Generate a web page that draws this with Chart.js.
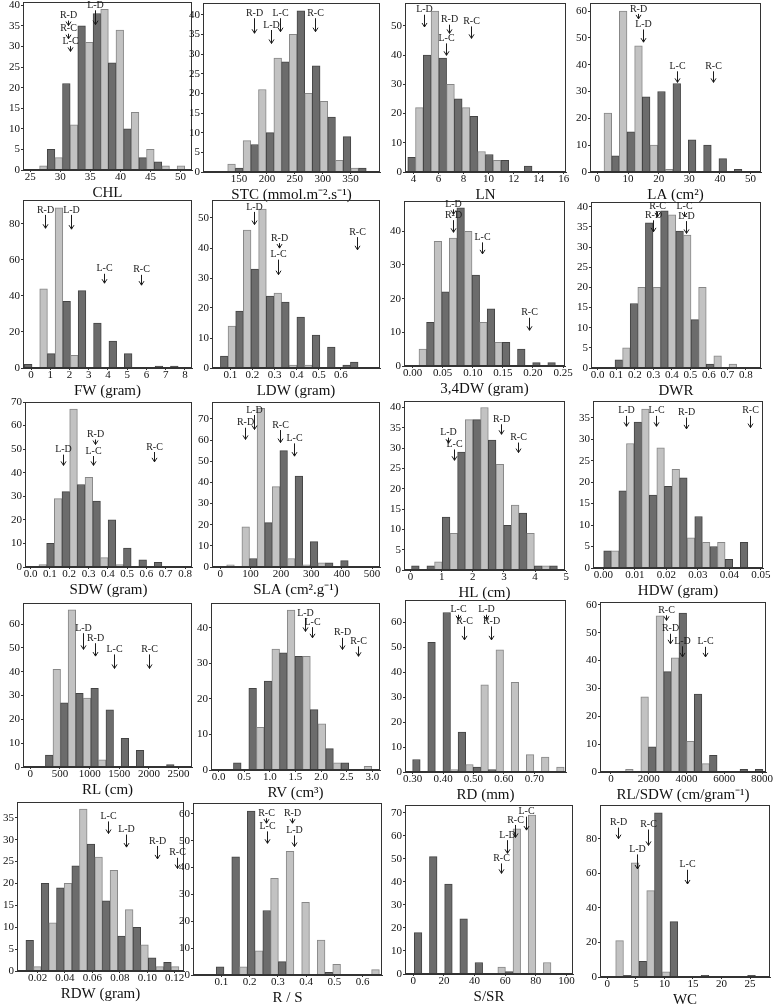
<!DOCTYPE html>
<html lang="en">
<head>
<meta charset="UTF-8">
<title>Trait histograms</title>
<script src="https://cdn.jsdelivr.net/npm/chart.js@4"></script>
<style>
  body { margin: 0; background: #fff; }
  #fig { position: relative; width: 773px; height: 1007px; overflow: hidden; background: #fff; }
  #fig canvas { position: absolute; }
</style>
</head>
<body>
<div id="fig"></div>
<script>
// each histogram: [first bin left edge, bin width], counts per bin,
// shade per bin (L = light bars, D = dark bars, - = empty), x tick labels,
// and the arrow notes as [label, x, y of label, y of arrow tip]

const CHL_BIN = [26.56, 1.27];
const CHL_COUNTS = [1, 5, 3, 21, 11, 35, 31, 38, 39, 26, 34, 10, 14, 3, 5, 2, 1, 0, 1];
const CHL_SHADE = 'LDLDLDLDLDLDLDLDL-L';
const CHL_XT = ['25', '30', '35', '40', '45', '50'];
const CHL_NOTES = [['L-D', 35.8, 40, 35.3], ['R-D', 31.3, 37.5, 35.3], ['R-C', 31.3, 34.3, 32.2], ['L-C', 31.6, 31.3, 28.8]];

const STC_BIN = [129.6, 13.8];
const STC_COUNTS = [2, 1, 8, 7, 21, 10, 29, 28, 35, 41, 20, 27, 18, 14, 3, 9, 1, 1];
const STC_SHADE = 'LDLDLDLDLDLDLDLDLD';
const STC_XT = ['150', '200', '250', '300', '350'];
const STC_NOTES = [['R-D', 177, 40.4, 35.3], ['L-D', 207, 37.4, 32.7], ['L-C', 224, 40.4, 35.7], ['R-C', 287, 40.4, 35.7]];

const LN_BIN = [3.55, 0.62];
const LN_COUNTS = [5, 22, 40, 55, 39, 30, 25, 22, 19, 7, 6, 4, 4, 0, 0, 2];
const LN_SHADE = 'DLDLDLDLDLDLD--D';
const LN_XT = ['4', '6', '8', '10', '12', '14', '16'];
const LN_NOTES = [['L-D', 4.85, 55.5, 49.6], ['R-D', 6.82, 52.1, 47.4], ['L-C', 6.6, 45.7, 39.9], ['R-C', 8.6, 51.5, 45.7]];

const LA_BIN = [2.17, 2.5];
const LA_COUNTS = [22, 6, 60, 15, 47, 28, 10, 30, 1, 33, 0, 12, 0, 10, 0, 5, 0, 1];
const LA_SHADE = 'LDLDLDLDLD-D-D-D-D';
const LA_XT = ['0', '10', '20', '30', '40', '50'];
const LA_NOTES = [['R-D', 13.3, 60.8, 57.1], ['L-D', 15.0, 55, 48.4], ['L-C', 26, 39.4, 33.4], ['R-C', 37.7, 39.4, 33.4]];

const FW_BIN = [-0.35, 0.4];
const FW_COUNTS = [2, 0, 44, 8, 89, 37, 7, 43, 0, 25, 0, 15, 0, 8, 0, 0, 0, 1, 0, 1];
const FW_SHADE = 'D-LDLDLD-D-D-D---D-D';
const FW_XT = ['0', '1', '2', '3', '4', '5', '6', '7', '8'];
const FW_NOTES = [['R-D', 0.71, 87.8, 77.6], ['L-D', 2.1, 87.8, 77.1], ['L-C', 3.81, 55.1, 47.1], ['R-C', 5.72, 54.5, 46]];

const LDW_BIN = [0.055, 0.0346];
const LDW_COUNTS = [4, 14, 19, 46, 33, 53, 24, 25, 22, 1, 17, 1, 11, 0, 7, 0, 1, 2];
const LDW_SHADE = 'DLDLDLDLDLDLD-D-DD';
const LDW_XT = ['0.1', '0.2', '0.3', '0.4', '0.5', '0.6'];
const LDW_NOTES = [['L-D', 0.208, 53.7, 47.8], ['R-D', 0.318, 43.3, 40.6], ['L-C', 0.315, 37.8, 31.1], ['R-C', 0.674, 45.3, 39.4]];

const DW34_BIN = [0.0105, 0.0126];
const DW34_COUNTS = [5, 13, 37, 22, 38, 47, 40, 27, 13, 17, 7, 7, 0, 5, 0, 1, 0, 1];
const DW34_SHADE = 'LDLDLDLDLDLD-D-D-D';
const DW34_XT = ['0.00', '0.05', '0.10', '0.15', '0.20', '0.25'];
const DW34_NOTES = [['L-D', 0.0676, 48, 45.8], ['R-D', 0.0676, 44.8, 39.7], ['L-C', 0.1147, 38.2, 33.3], ['R-C', 0.194, 15.8, 10.6]];

const DWR_BIN = [0.0935, 0.041];
const DWR_COUNTS = [2, 5, 16, 20, 36, 20, 39, 38, 34, 33, 12, 20, 1, 3, 0, 1];
const DWR_SHADE = 'DLDLDLDLDLDLDL-L';
const DWR_XT = ['0.0', '0.1', '0.2', '0.3', '0.4', '0.5', '0.6', '0.7', '0.8'];
const DWR_NOTES = [['R-C', 0.318, 40, 38.3], ['R-D', 0.3, 37.9, 33.8], ['L-C', 0.468, 40, 38.3], ['L-D', 0.477, 37.7, 33.4]];

const SDW_BIN = [0.0433, 0.0398];
const SDW_COUNTS = [1, 10, 29, 32, 67, 35, 38, 28, 4, 20, 1, 8, 0, 3, 0, 2];
const SDW_SHADE = 'LDLDLDLDLDLD-D-D';
const SDW_XT = ['0.0', '0.1', '0.2', '0.3', '0.4', '0.5', '0.6', '0.7', '0.8'];
const SDW_NOTES = [['L-D', 0.17, 49.8, 43.1], ['R-D', 0.334, 56.2, 52.6], ['L-C', 0.322, 49.2, 43.1], ['R-C', 0.637, 50.9, 44.6]];

const SLA_BIN = [21.4, 25];
const SLA_COUNTS = [1, 0, 19, 4, 75, 21, 38, 55, 4, 43, 1, 12, 2, 2, 0, 3];
const SLA_SHADE = 'L-LDLDLDLDLDLD-D';
const SLA_XT = ['0', '100', '200', '300', '400', '500'];
const SLA_NOTES = [['R-D', 80, 68.2, 60.3], ['L-D', 110, 74.2, 65], ['R-C', 197, 67.1, 58.8], ['L-C', 243, 60.8, 52.4]];

const HL_BIN = [0.032, 0.2465];
const HL_COUNTS = [1, 0, 1, 2, 13, 9, 29, 37, 37, 40, 32, 26, 11, 16, 14, 9, 1, 1, 1];
const HL_SHADE = 'D-DLDLDLDLDLDLDLDLD';
const HL_XT = ['0', '1', '2', '3', '4', '5'];
const HL_NOTES = [['L-D', 1.21, 33.8, 31.2], ['L-C', 1.4, 30.9, 27], ['R-D', 2.89, 37.1, 33.4], ['R-C', 3.46, 32.6, 28.9]];

const HDW_BIN = [0.0001, 0.00241];
const HDW_COUNTS = [4, 4, 18, 29, 34, 37, 17, 28, 19, 23, 21, 7, 12, 6, 5, 6, 2, 0, 6];
const HDW_SHADE = 'DLDLDLDLDLDLDLDLD-D';
const HDW_XT = ['0.00', '0.01', '0.02', '0.03', '0.04', '0.05'];
const HDW_NOTES = [['L-D', 0.0073, 36.6, 33], ['L-C', 0.0166, 36.6, 33], ['R-D', 0.0261, 36.2, 32.4], ['R-C', 0.0465, 36.6, 32.7]];

const RL_BIN = [254, 127.7];
const RL_COUNTS = [5, 41, 27, 66, 31, 29, 33, 3, 24, 0, 12, 0, 7, 0, 0, 0, 1];
const RL_SHADE = 'DLDLDLDLD-D-D---D';
const RL_XT = ['0', '500', '1000', '1500', '2000', '2500'];
const RL_NOTES = [['L-D', 893, 58.3, 49.4], ['R-D', 1090, 54.1, 46.6], ['L-C', 1418, 49.4, 41.4], ['R-C', 2006, 49.4, 41.4]];

const RV_BIN = [0.29, 0.15];
const RV_COUNTS = [2, 0, 23, 12, 25, 34, 33, 45, 32, 32, 17, 13, 6, 2, 2, 0, 0, 1];
const RV_SHADE = 'D-DLDLDLDLDLDLD--L';
const RV_XT = ['0.0', '0.5', '1.0', '1.5', '2.0', '2.5', '3.0'];
const RV_NOTES = [['L-D', 1.68, 44.2, 39], ['L-C', 1.82, 41.6, 37.2], ['R-D', 2.41, 38.6, 33.9], ['R-C', 2.73, 36.2, 32]];

const RD_BIN = [0.30, 0.0249];
const RD_COUNTS = [5, 0, 52, 0, 64, 1, 16, 3, 2, 35, 1, 49, 0, 36, 0, 7, 0, 6, 0, 2];
const RD_SHADE = 'D-D-DLDLDLDL-L-L-L-L';
const RD_XT = ['0.30', '0.40', '0.50', '0.60', '0.70'];
const RD_NOTES = [['L-C', 0.45, 65.1, 61.7], ['R-C', 0.469, 60.4, 53], ['L-D', 0.541, 65.1, 61.7], ['R-D', 0.556, 60.4, 53]];

const RLS_BIN = [773, 404];
const RLS_COUNTS = [1, 0, 27, 9, 56, 36, 41, 57, 11, 28, 3, 6, 0, 0, 0, 1, 0, 1];
const RLS_SHADE = 'L-LDLDLDLDLD---D-D';
const RLS_XT = ['0', '2000', '4000', '6000', '8000'];
const RLS_NOTES = [['R-C', 2935, 58, 54.4], ['R-D', 3146, 51.4, 46], ['L-D', 3761, 46.9, 41.3], ['L-C', 4956, 46.7, 41.3]];

const RDW_BIN = [0.0115, 0.00558];
const RDW_COUNTS = [7, 1, 20, 11, 19, 20, 24, 37, 29, 26, 16, 23, 8, 14, 10, 6, 3, 1, 2, 1];
const RDW_SHADE = 'DLDLDLDLDLDLDLDLDLDL';
const RDW_XT = ['0.02', '0.04', '0.06', '0.08', '0.10', '0.12'];
const RDW_NOTES = [['L-C', 0.0717, 35.3, 31.4], ['L-D', 0.0843, 32.3, 28.3], ['R-D', 0.1069, 29.7, 25.6], ['R-C', 0.122, 27, 23.4]];

const RS_BIN = [0.0822, 0.0275];
const RS_COUNTS = [3, 0, 44, 3, 61, 9, 24, 36, 5, 46, 0, 27, 0, 13, 1, 4, 0, 0, 0, 0, 2];
const RS_SHADE = 'D-DLDLDLDL-L-LDL----L';
const RS_XT = ['0.1', '0.2', '0.3', '0.4', '0.5', '0.6'];
const RS_NOTES = [['R-C', 0.26, 60.2, 56.5], ['L-C', 0.263, 55.3, 49], ['R-D', 0.349, 60.2, 56.5], ['L-D', 0.357, 53.8, 47.8]];

const SSR_BIN = [0.65, 4.96];
const SSR_COUNTS = [18, 0, 51, 0, 39, 0, 24, 0, 5, 0, 0, 3, 1, 63, 0, 69, 0, 5];
const SSR_SHADE = 'D-D-D-D-D--LDL-L-L';
const SSR_XT = ['0', '20', '40', '60', '80', '100'];
const SSR_NOTES = [['L-C', 73.5, 70.5, 62.5], ['R-C', 66.5, 66.9, 59.3], ['L-D', 60.9, 60.3, 52.4], ['R-C', 57.6, 50.2, 43.7]];

const WC_BIN = [1.46, 1.36];
const WC_COUNTS = [21, 1, 66, 9, 50, 95, 3, 32, 0, 0, 0, 1, 0, 0, 0, 0, 0, 1];
const WC_SHADE = 'LDLDLDLD---D-----D';
const WC_XT = ['0', '5', '10', '15', '20', '25'];
const WC_NOTES = [['R-D', 1.93, 89.3, 80], ['R-C', 7.1, 88.2, 76.1], ['L-D', 5.15, 73.8, 62.5], ['L-C', 14.0, 64.9, 53.8]];

// layout: plot box on the page [left, top, right, bottom], x range, [y max, y step]
const PANELS = [
  { title: 'CHL', box: [23, 2, 192, 170], xr: [23.8, 51.9], y: [40.8, 5], bin: CHL_BIN, counts: CHL_COUNTS, shade: CHL_SHADE, xt: CHL_XT, notes: CHL_NOTES },
  { title: 'STC (mmol.m\u207B\u00B2.s\u207B\u00B9)', box: [203, 3, 380, 172], xr: [85.3, 402.7], y: [43, 5], bin: STC_BIN, counts: STC_COUNTS, shade: STC_SHADE, xt: STC_XT, notes: STC_NOTES },
  { title: 'LN', box: [405, 3, 566, 172], xr: [3.33, 16.18], y: [57.8, 10], bin: LN_BIN, counts: LN_COUNTS, shade: LN_SHADE, xt: LN_XT, notes: LN_NOTES },
  { title: 'LA (cm\u00B2)', box: [590, 3, 761, 172], xr: [-2.4, 53.4], y: [63, 10], bin: LA_BIN, counts: LA_COUNTS, shade: LA_SHADE, xt: LA_XT, notes: LA_NOTES },

  { title: 'FW (gram)', box: [23, 200, 192, 368], xr: [-0.42, 8.37], y: [93.3, 20], bin: FW_BIN, counts: FW_COUNTS, shade: FW_SHADE, xt: FW_XT, notes: FW_NOTES },
  { title: 'LDW (gram)', box: [212, 200, 380, 368], xr: [0.017, 0.777], y: [56, 10], bin: LDW_BIN, counts: LDW_COUNTS, shade: LDW_SHADE, xt: LDW_XT, notes: LDW_NOTES },
  { title: '3,4DW (gram)', box: [404, 201, 565, 366], xr: [-0.0144, 0.2533], y: [49, 10], bin: DW34_BIN, counts: DW34_COUNTS, shade: DW34_SHADE, xt: DW34_XT, notes: DW34_NOTES },
  { title: 'DWR', box: [591, 202, 761, 368], xr: [-0.036, 0.881], y: [41.2, 5], bin: DWR_BIN, counts: DWR_COUNTS, shade: DWR_SHADE, xt: DWR_XT, notes: DWR_NOTES },

  { title: 'SDW (gram)', box: [25, 402, 192, 567], xr: [-0.029, 0.836], y: [70, 10], bin: SDW_BIN, counts: SDW_COUNTS, shade: SDW_SHADE, xt: SDW_XT, notes: SDW_NOTES },
  { title: 'SLA (cm\u00B2.g\u207B\u00B9)', box: [212, 402, 380, 567], xr: [-27, 526], y: [78, 10], bin: SLA_BIN, counts: SLA_COUNTS, shade: SLA_SHADE, xt: SLA_XT, notes: SLA_NOTES },
  { title: 'HL (cm)', box: [404, 401, 565, 570], xr: [-0.21, 4.96], y: [41.6, 5], bin: HL_BIN, counts: HL_COUNTS, shade: HL_SHADE, xt: HL_XT, notes: HL_NOTES },
  { title: 'HDW (gram)', box: [593, 401, 763, 568], xr: [-0.0033, 0.0507], y: [38.9, 5], bin: HDW_BIN, counts: HDW_COUNTS, shade: HDW_SHADE, xt: HDW_XT, notes: HDW_NOTES },

  { title: 'RL (cm)', box: [23, 603, 192, 767], xr: [-124, 2727], y: [68.9, 10], bin: RL_BIN, counts: RL_COUNTS, shade: RL_SHADE, xt: RL_XT, notes: RL_NOTES },
  { title: 'RV (cm\u00B3)', box: [211, 603, 380, 770], xr: [-0.148, 3.15], y: [47, 10], bin: RV_BIN, counts: RV_COUNTS, shade: RV_SHADE, xt: RV_XT, notes: RV_NOTES },
  { title: 'RD (mm)', box: [405, 600, 566, 772], xr: [0.275, 0.804], y: [69, 10], bin: RD_BIN, counts: RD_COUNTS, shade: RD_SHADE, xt: RD_XT, notes: RD_NOTES },
  { title: 'RL/SDW (cm/gram\u207B\u00B9)', box: [600, 602, 766, 772], xr: [-580, 8210], y: [61, 10], bin: RLS_BIN, counts: RLS_COUNTS, shade: RLS_SHADE, xt: RLS_XT, notes: RLS_NOTES },

  { title: 'RDW (gram)', box: [17, 802, 184, 971], xr: [0.005, 0.1268], y: [38.6, 5], bin: RDW_BIN, counts: RDW_COUNTS, shade: RDW_SHADE, xt: RDW_XT, notes: RDW_NOTES },
  { title: 'R / S', box: [193, 803, 382, 975], xr: [0.0, 0.669], y: [64, 10], bin: RS_BIN, counts: RS_COUNTS, shade: RS_SHADE, xt: RS_XT, notes: RS_NOTES },
  { title: 'S/SR', box: [405, 805, 573, 974], xr: [-5.4, 104.3], y: [73.4, 10], bin: SSR_BIN, counts: SSR_COUNTS, shade: SSR_SHADE, xt: SSR_XT, notes: SSR_NOTES },
  { title: 'WC', box: [600, 805, 770, 977], xr: [-1.29, 28.5], y: [99.5, 20], bin: WC_BIN, counts: WC_COUNTS, shade: WC_SHADE, xt: WC_XT, notes: WC_NOTES }
];

const LIGHT = '#c2c2c2', LIGHT_EDGE = '#878787';
const DARK = '#6c6c6c', DARK_EDGE = '#444444';
const AXIS = '#333333';
const Y_W = 26, PAD_T = 8, PAD_R = 16, X_H = 32;

Chart.defaults.font.family = "'Liberation Serif', 'Times New Roman', serif";
Chart.defaults.font.size = 11;
Chart.defaults.color = '#111';

// closed frame round the plot area
const frame = {
  id: 'frame',
  afterDatasetsDraw(chart) {
    const { ctx, chartArea: a } = chart;
    ctx.save();
    ctx.strokeStyle = AXIS;
    ctx.lineWidth = 1;
    ctx.strokeRect(Math.round(a.left) + 0.5, Math.round(a.top) + 0.5,
      Math.round(a.right - a.left) - 1, Math.round(a.bottom - a.top) - 1);
    ctx.restore();
  }
};

// the little labelled down-arrows
function notesPlugin(notes) {
  return {
    id: 'notes',
    afterDatasetsDraw(chart) {
      const { ctx, scales: { x, y } } = chart;
      ctx.save();
      ctx.font = "10px 'Liberation Serif', serif";
      ctx.fillStyle = '#1a1a1a';
      ctx.strokeStyle = '#1a1a1a';
      ctx.lineWidth = 1;
      ctx.textAlign = 'center';
      ctx.textBaseline = 'middle';
      notes.forEach(([label, xv, yText, yTip]) => {
        const px = Math.round(x.getPixelForValue(xv)) + 0.5;
        const ty = y.getPixelForValue(yText);
        const y0 = ty + 5;
        const y1 = Math.max(y.getPixelForValue(yTip), y0 + 5);
        ctx.fillText(label, px, ty);
        ctx.beginPath();
        ctx.moveTo(px, y0);
        ctx.lineTo(px, y1);
        ctx.moveTo(px - 2.5, y1 - 4);
        ctx.lineTo(px, y1);
        ctx.lineTo(px + 2.5, y1 - 4);
        ctx.stroke();
      });
      ctx.restore();
    }
  };
}

const fig = document.getElementById('fig');

PANELS.forEach(p => {
  const [l, t, r, b] = p.box;
  const w = r - l + Y_W + PAD_R;
  const h = b - t + PAD_T + X_H;
  const cv = document.createElement('canvas');
  cv.width = w;
  cv.height = h;
  cv.style.left = (l - Y_W) + 'px';
  cv.style.top = (t - PAD_T) + 'px';
  cv.style.width = w + 'px';
  cv.style.height = h + 'px';
  fig.appendChild(cv);

  const [x0, x1] = p.xr;
  const thick = p.bin[1] / (x1 - x0) * (r - l);
  const pts = [], fills = [], edges = [];
  p.counts.forEach((c, i) => {
    const s = p.shade[i];
    if (s === '-') return;
    pts.push({ x: p.bin[0] + (i + 0.5) * p.bin[1], y: c });
    fills.push(s === 'L' ? LIGHT : DARK);
    edges.push(s === 'L' ? LIGHT_EDGE : DARK_EDGE);
  });

  new Chart(cv, {
    type: 'bar',
    data: {
      datasets: [{
        data: pts,
        backgroundColor: fills,
        borderColor: edges,
        borderWidth: 1,
        barThickness: thick
      }]
    },
    options: {
      responsive: false,
      animation: false,
      devicePixelRatio: 1,
      layout: { padding: { top: PAD_T, right: PAD_R, left: 0, bottom: 0 } },
      plugins: { legend: { display: false }, tooltip: { enabled: false } },
      scales: {
        x: {
          type: 'linear',
          min: x0,
          max: x1,
          offset: false,
          afterBuildTicks: s => { s.ticks = p.xt.map(v => ({ value: parseFloat(v) })); },
          afterFit: s => { s.height = X_H; },
          ticks: { callback: (v, i) => p.xt[i], autoSkip: false, maxRotation: 0, padding: -1 },
          grid: { drawOnChartArea: false, offset: false, tickLength: 2, color: AXIS },
          border: { color: AXIS },
          title: { display: true, text: p.title, font: { size: 15 }, padding: 0, color: '#111' }
        },
        y: {
          min: 0,
          max: p.y[0],
          afterFit: s => { s.width = Y_W; },
          ticks: { stepSize: p.y[1], includeBounds: false, padding: 1 },
          grid: { drawOnChartArea: false, tickLength: 2, color: AXIS },
          border: { color: AXIS }
        }
      }
    },
    plugins: [frame, notesPlugin(p.notes)]
  });
});
</script>
</body>
</html>
